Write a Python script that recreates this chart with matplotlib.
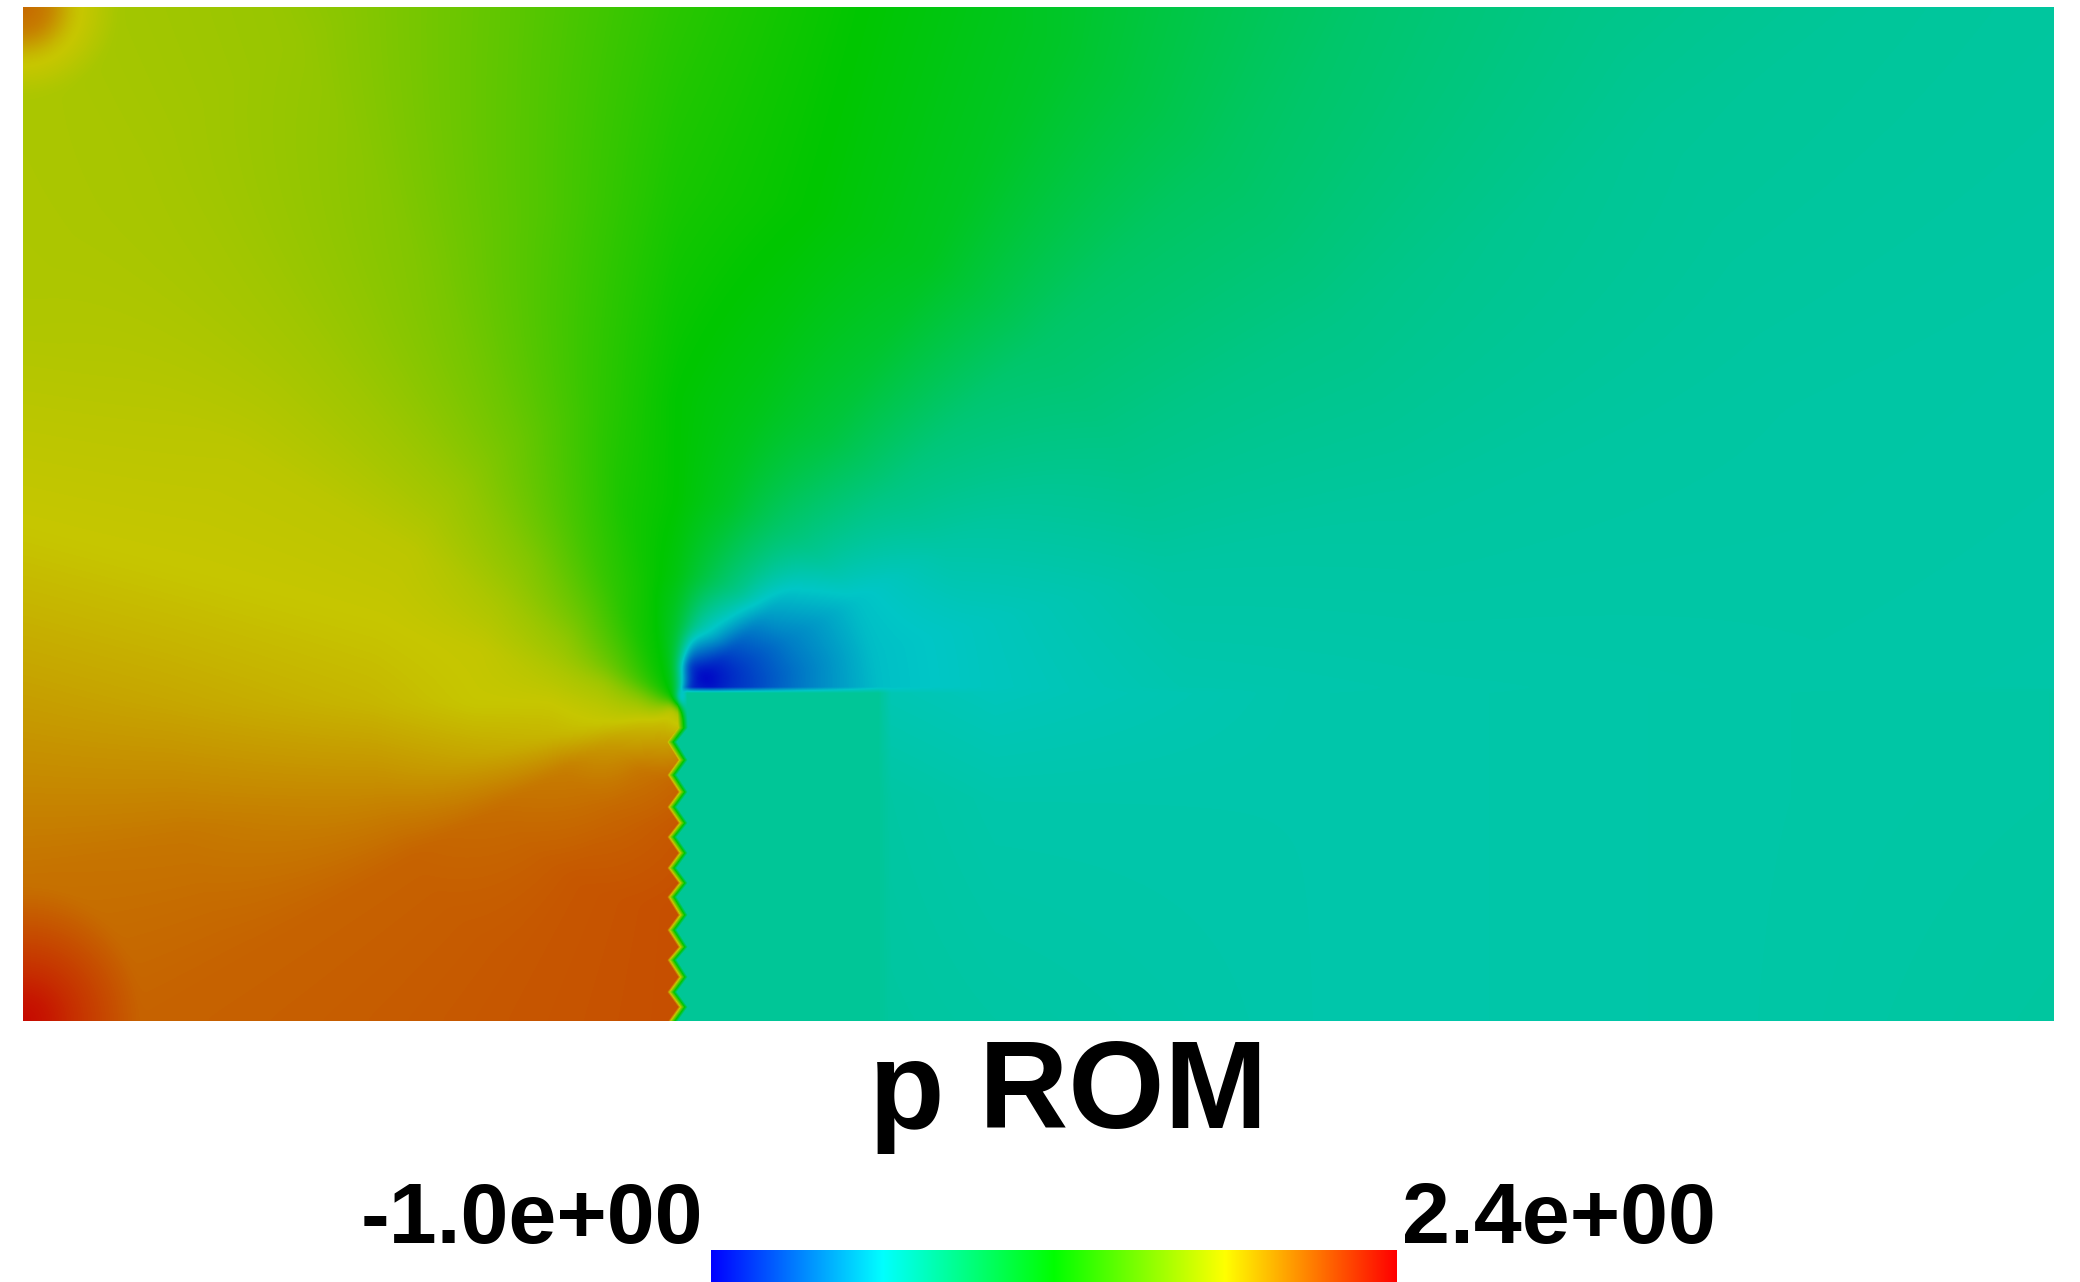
import numpy as np
import matplotlib
matplotlib.use("Agg")
import matplotlib.pyplot as plt
from matplotlib.colors import LinearSegmentedColormap, Normalize

title = "p ROM"
p_min, p_max = -1.0, 2.4
label_min, label_max = "-1.0e+00", "2.4e+00"

# radial / angular stations around the step corner (r in domain units, theta in degrees)
r_nodes = [0.05, 0.15, 0.3, 0.5, 0.8, 1.2, 2.0, 3.0, 4.5, 7.0]
theta_nodes = [0, 15, 30, 45, 60, 75, 90, 105, 120, 135, 150, 165, 180, 195, 210, 240, 270]
# field, as position on the colour bar (0..1); row = theta, col = r
fan = [
    [.20, .08, .10, .16, .24, .26, .28, .285, .29, .285],
    [.10, .04, .08, .15, .24, .26, .295, .30, .295, .29],
    [.08, .01, .08, .16, .24, .29, .33, .33, .31, .30],
    [.06, .00, .10, .20, .31, .34, .37, .38, .35, .33],
    [.12, .03, .21, .32, .37, .42, .46, .45, .40, .36],
    [.30, .08, .30, .40, .45, .47, .50, .50, .45, .40],
    [.42, .40, .44, .48, .50, .50, .53, .56, .52, .48],
    [.47, .49, .50, .52, .53, .56, .60, .63, .63, .63],
    [.50, .51, .53, .56, .59, .63, .66, .69, .70, .70],
    [.52, .54, .58, .62, .66, .69, .70, .71, .72, .72],
    [.55, .58, .63, .68, .71, .735, .735, .72, .72, .72],
    [.60, .65, .70, .72, .745, .75, .75, .75, .75, .75],
    [.64, .70, .73, .75, .75, .77, .79, .81, .81, .81],
    [.68, .73, .75, .77, .79, .82, .85, .86, .86, .86],
    [.72, .76, .80, .84, .86, .875, .875, .875, .875, .875],
    [.75, .79, .85, .87, .89, .89, .89, .89, .89, .89],
    [.72, .80, .87, .89, .90, .90, .90, .90, .90, .90],
]
# region right of the wall and below the step
lower_x = [0.0, 2.58, 3.37, 3.42, 3.83, 5.1, 6.7, 8.0]
lower_y = [0.0, 0.88, 1.3]
lower = [
    [.31, .31, .31, .30, .295, .285, .29, .30],
    [.31, .31, .31, .295, .285, .285, .29, .295],
    [.31, .31, .31, .275, .265, .285, .29, .295],
]
# corner hot spots
corner_r = [0.0, 0.1, 0.2, 0.4, 0.6]
corner_tl = [.87, .84, .76, .70, .65]
corner_bl = [.99, .97, .94, .89, .84]
# saw-tooth of the wall, in pixels of the figure
wall_y = [690, 728, 742, 760, 775, 792, 807, 823, 837, 853, 868, 883, 897, 915, 930, 947, 960, 977, 992, 1007, 1021]
wall_x = [677, 678, 667, 678, 667, 678, 667, 678, 667, 678, 667, 678, 667, 678, 667, 678, 667, 678, 667, 678, 668]

W, H = 2080, 1282
fx0, fx1, fy0, fy1 = 23, 2054, 7, 1021
cx_px, cy_px = 677, 703

fig = plt.figure(figsize=(W / 100, H / 100), dpi=100, facecolor="white")
ax = fig.add_axes([fx0 / W, 1 - fy1 / H, (fx1 - fx0) / W, (fy1 - fy0) / H])

nx, ny = fx1 - fx0, fy1 - fy0
px = fx0 + (np.arange(nx) + .5)
py = fy0 + (np.arange(ny) + .5)
PX, PY = np.meshgrid(px, py)
X = (PX - fx0) / (fx1 - fx0) * 8
Y = (fy1 - PY) / (fy1 - fy0) * 4
dx = (PX - cx_px) / 254.0
dy = (cy_px - PY) / 254.0
R = np.hypot(dx, dy)
TH = np.degrees(np.arctan2(dy, dx)) % 360
TH = np.where(TH > 315, 0, TH)
TH = np.where((TH > 270) & (PX < 700), 270, TH)

def bilinear(xq, yq, xn, yn, table):
    t = np.asarray(table, float)
    fi = np.interp(xq, xn, np.arange(len(xn)))
    fj = np.interp(yq, yn, np.arange(len(yn)))
    i0 = np.clip(np.floor(fi).astype(int), 0, len(xn) - 2)
    j0 = np.clip(np.floor(fj).astype(int), 0, len(yn) - 2)
    a, b = fi - i0, fj - j0
    return (t[j0, i0] * (1 - a) * (1 - b) + t[j0, i0 + 1] * a * (1 - b)
            + t[j0 + 1, i0] * (1 - a) * b + t[j0 + 1, i0 + 1] * a * b)

def box(a, k, axis):
    pad = [(0, 0), (0, 0)]
    pad[axis] = (k // 2 + 1, k // 2)
    c = np.cumsum(np.pad(a, pad, mode="edge"), axis=axis)
    if axis == 0:
        return (c[k:, :] - c[:-k, :]) / k
    return (c[:, k:] - c[:, :-k]) / k

def soften(a, k=11):
    for _ in range(2):
        a = box(box(a, k, 0), k, 1)
    return a

upper = bilinear(R, TH, r_nodes, theta_nodes, fan)
d_tl = np.hypot(X, 4 - Y)
d_bl = np.hypot(X, Y)
upper = np.maximum(upper, np.interp(d_tl, corner_r, corner_tl, right=0))
upper = np.maximum(upper, np.interp(d_bl, corner_r, corner_bl, right=0))
upper = soften(upper)
low = bilinear(X, Y, lower_x, lower_y, lower)

wx = np.interp(PY, wall_y, wall_x)
s_x = np.clip((PX - wx) / 10.0, 0, 1)
s_y = np.clip((PY - 687) / 6.0, 0, 1)
s = s_x * s_y
t_field = upper * (1 - s) + low * s
p_field = p_min + t_field * (p_max - p_min)

base = [(0, 0, 1), (0, 1, 1), (0, 1, 0), (1, 1, 0), (1, 0, 0)]
cmap_bar = LinearSegmentedColormap.from_list("rb", base, N=512)
dim = 0.78
cmap_field = LinearSegmentedColormap.from_list("rbd", [tuple(c * dim for c in col) for col in base], N=512)
norm = Normalize(p_min, p_max)

ax.imshow(p_field, cmap=cmap_field, norm=norm, extent=(0, 8, 0, 4), origin="upper",
          aspect="auto", interpolation="bilinear")
ax.set_axis_off()

cax = fig.add_axes([711 / W, 0, (1397 - 711) / W, (H - 1250) / H])
cax.imshow(np.linspace(p_min, p_max, 512)[None, :], cmap=cmap_bar, norm=norm, aspect="auto",
           extent=(p_min, p_max, 0, 1))
cax.set_axis_off()

font = dict(family="Liberation Sans", weight="bold", color="black")
fig.text(1068 / W, 1 - 1128 / H, title, ha="center", va="baseline", fontsize=89, **font)
fig.text(703 / W, 1 - 1243 / H, label_min, ha="right", va="baseline", fontsize=62, **font)
fig.text(1402 / W, 1 - 1243 / H, label_max, ha="left", va="baseline", fontsize=62, **font)

fig.savefig("out.png", dpi=100, facecolor="white")
